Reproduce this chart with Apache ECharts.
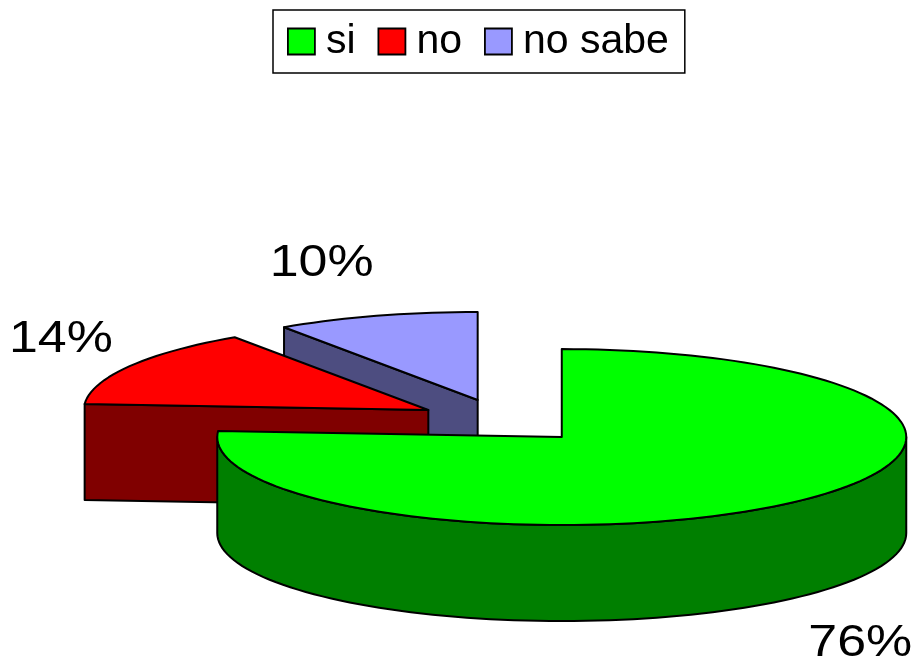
<!DOCTYPE html>
<html>
<head>
<meta charset="utf-8">
<script src="https://cdn.jsdelivr.net/npm/echarts@6/dist/echarts.min.js"></script>
<style>
html,body{margin:0;padding:0;background:#fff;}
#chart{width:917px;height:668px;}
</style>
</head>
<body>
<div id="chart"></div>
<script>
// ---- data ----
const categories = ['si', 'no', 'no sabe'];
const values = [76.1, 14.4, 9.5];
const topColors = ['#00FF00', '#FF0000', '#9999FF'];
const sideColors = ['#007F00', '#800000', '#4D4D80'];

// ---- layout / style ----
const PIE = { cx: 503, cy: 421, rx: 344.5, ry: 88, depth: 96, explode: 0.25 };
const LABEL_FACTORS = [[1.27, 1.72], [1.23, 1.61], [1.54, 1.62]];
const FONT = 'Liberation Sans, Arial, sans-serif';

const total = values.reduce((a, b) => a + b, 0);
const D2R = Math.PI / 180;

function renderSlice(i) {
  return function (params, api) {
    const v = api.value(0);
    let before = 0;
    for (let k = 0; k < i; k++) before += values[k];
    const a0 = before / total * 360;
    const a1 = a0 + v / total * 360;
    const mid = (a0 + a1) / 2;
    const rx = PIE.rx, ry = PIE.ry, dep = PIE.depth;
    const cx = PIE.cx + PIE.explode * rx * Math.sin(mid * D2R);
    const cy = PIE.cy - PIE.explode * ry * Math.cos(mid * D2R);
    const pt = (t, dz) => [cx + rx * Math.sin(t * D2R), cy - ry * Math.cos(t * D2R) + (dz || 0)];
    const arc = (s, e, dz) => {
      const n = Math.max(2, Math.ceil((e - s) / 2));
      const out = [];
      for (let j = 0; j <= n; j++) out.push(pt(s + (e - s) * j / n, dz));
      return out;
    };
    const lineStyle = { stroke: '#000', lineWidth: 2, lineJoin: 'round' };
    const side = Object.assign({ fill: sideColors[i] }, lineStyle);
    const top = Object.assign({ fill: topColors[i] }, lineStyle);
    const children = [];
    const c0 = [cx, cy], c1 = [cx, cy + dep];
    if (Math.sin(a0 * D2R) < -1e-6) {
      const p = pt(a0), q = pt(a0, dep);
      children.push({ type: 'polygon', shape: { points: [c0, p, q, c1] }, style: side });
    }
    if (Math.sin(a1 * D2R) > 1e-6) {
      const p = pt(a1), q = pt(a1, dep);
      children.push({ type: 'polygon', shape: { points: [c0, p, q, c1] }, style: side });
    }
    const lo = Math.max(a0, 90), hi = Math.min(a1, 270);
    if (lo < hi) {
      const pts = arc(lo, hi, 0).concat(arc(lo, hi, dep).reverse());
      children.push({ type: 'polygon', shape: { points: pts }, style: side });
    }
    children.push({ type: 'polygon', shape: { points: [c0].concat(arc(a0, a1, 0)) }, style: top });
    // label
    const f = LABEL_FACTORS[i];
    const front = Math.cos(mid * D2R) < 0;
    const lx = cx + Math.sin(mid * D2R) * rx * f[0];
    const ly = cy - Math.cos(mid * D2R) * ry * f[1] + (front ? dep : 0);
    children.push({
      type: 'text', x: lx, y: ly, scaleX: 1.18,
      style: {
        text: Math.round(v / total * 100) + '%',
        fontSize: 44, fontFamily: FONT, fill: '#000',
        align: 'center', verticalAlign: 'middle'
      }
    });
    return { type: 'group', children: children };
  };
}

const series = categories.map((name, i) => ({
  type: 'custom',
  name: name,
  coordinateSystem: 'none',
  z: 10 - i,
  itemStyle: { color: topColors[i], borderColor: '#000', borderWidth: 1.5 },
  data: [{ value: values[i], name: name }],
  renderItem: renderSlice(i),
  silent: true,
  animation: false
}));

const chart = echarts.init(document.getElementById('chart'), null, { renderer: 'canvas' });
chart.setOption({
  backgroundColor: '#fff',
  animation: false,
  legend: {
    data: categories,
    left: 273, top: 10,
    orient: 'horizontal',
    padding: [11, 16, 11, 14],
    itemWidth: 27, itemHeight: 26, itemGap: 22,
    borderColor: '#000', borderWidth: 1.5, borderRadius: 0,
    selectedMode: false,
    icon: 'rect',
    itemStyle: { borderColor: '#000', borderWidth: 1.8 },
    textStyle: { fontSize: 41, fontFamily: FONT, color: '#000', padding: [0, 0, 0, 6] }
  },
  series: series
});
</script>
</body>
</html>
